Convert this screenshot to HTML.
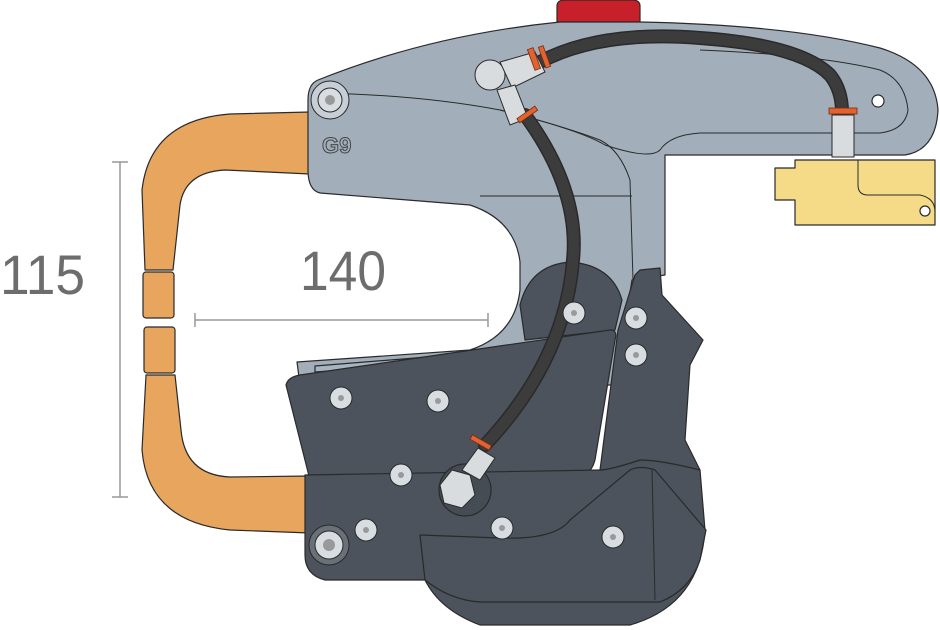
<!DOCTYPE html>
<html><head><meta charset="utf-8"><style>
html,body{margin:0;padding:0;background:#fff;width:940px;height:630px;overflow:hidden}
svg{display:block}
text{font-family:"Liberation Sans",sans-serif}
</style></head><body>
<svg width="940" height="630" viewBox="0 0 940 630" xmlns="http://www.w3.org/2000/svg">
<g stroke="#2a2a2a" stroke-width="1.2" stroke-linejoin="round">
<!-- red button -->
<path d="M557,22 L557,6 Q557,0 565,0 L632,0 Q640,0 640,6 L640,22 Z" fill="#c8202a"/>
<!-- copper arms -->
<path d="M310,112 L230,114 Q150,120 142,190 L145,270 L173,270 L180,205 Q185,172 225,170 L310,174 Z" fill="#e7a55e"/>
<rect x="143" y="272" width="31" height="46" rx="3" fill="#e7a55e"/>
<rect x="144" y="327" width="31" height="46" rx="3" fill="#e7a55e"/>
<path d="M310,533 L230,530 Q148,522 142,450 L146,375 L175,375 L181,430 Q185,475 230,477 L310,476 Z" fill="#e7a55e"/>
<!-- gray body -->
<path d="M318,80 Q430,35 560,22 L640,22 Q790,25 880,48 Q935,65 938,110 Q936,150 905,155 L665,155 L665,275 L632,280 L615,385 L300,385 L297,362 L470,350 Q515,335 520,290 L520,262 Q515,220 470,205 L320,193 Q308,190 308,170 L308,100 Q308,84 318,80 Z" fill="#a2afbb"/>
<path d="M320,93 Q420,95 500,110 Q560,125 600,140 Q620,150 630,180 L633,280" fill="none" stroke-width="1"/>
<path d="M500,110 Q580,130 605,145 Q650,160 660,150 Q670,135 700,133 L880,133 Q905,130 908,110 Q905,80 880,70 Q820,55 700,50" fill="none" stroke-width="1"/>
<path d="M480,196 L632,196" fill="none" stroke-width="1"/>
<circle cx="878" cy="101" r="6" fill="#fff"/>
<ellipse cx="571" cy="233" rx="4" ry="7" fill="#fff"/>
<path d="M315,366 L440,356 Q450,360 430,364 L315,372 Z" fill="#a8b4bf"/>
<!-- yellow block -->
<path d="M795,160 L935,160 L935,225 L795,225 L795,200 L775,200 L775,168 L795,168 Z" fill="#f5da88"/>
<path d="M858,160 L858,185 Q858,195 868,195 L920,195 Q935,198 935,212" fill="none" stroke-width="1"/>
<circle cx="925" cy="211" r="5" fill="#fff"/>
<!-- dark parts -->
<path d="M635,275 L640,270 L660,268 L662,295 L703,340 L690,365 L685,440 L700,470 L600,470 L618,330 Z" fill="#4c535c"/>
<path d="M520,305 Q530,265 570,262 Q612,265 622,300 L615,330 L525,340 Z" fill="#4c535c"/>
<path d="M286,385 Q288,377 300,375 L610,330 Q618,330 615,340 L595,460 Q590,480 565,480 L310,480 Z" fill="#4c535c"/>
<path d="M305,475 L600,470 Q610,470 640,460 Q660,460 700,470 L705,530 Q700,605 630,625 L480,625 Q440,610 425,580 L325,580 Q305,575 305,555 Z" fill="#4c535c"/>
<path d="M420,535 L425,580 Q450,600 480,602 L660,602 Q690,590 700,560 L706,530 L655,470 Q640,465 630,470 L570,520 Q555,540 500,538 Z" fill="#4c535c"/>
<path d="M652,470 L655,600" fill="none" stroke-width="1"/>
<circle cx="465" cy="490" r="26" fill="#464c54"/>
</g>
<!-- hoses -->
<g fill="none" stroke-linecap="round">
<path d="M540,62 Q600,30 700,38 Q800,45 830,75 Q842,90 842,112" stroke="#2a2a2a" stroke-width="14"/>
<path d="M540,62 Q600,30 700,38 Q800,45 830,75 Q842,90 842,112" stroke="#3c3c3c" stroke-width="11"/>
<path d="M525,115 Q580,190 573,260 Q565,360 485,445" stroke="#2a2a2a" stroke-width="14"/>
<path d="M525,115 Q580,190 573,260 Q565,360 485,445" stroke="#3c3c3c" stroke-width="11"/>
</g>
<g stroke="#2a2a2a" stroke-width="1" fill="#d8dcdf">
<circle cx="490" cy="75" r="15"/>
<path d="M500,62 L535,52 L545,72 L512,88 Z"/>
<path d="M497,90 L515,85 L528,118 L510,125 Z"/>
<rect x="832" y="115" width="22" height="42"/>
<path d="M462,470 L478,448 L495,458 L480,480 Z"/>
<path d="M440,485 L452,470 L470,475 L475,495 L462,508 L444,503 Z"/>
</g>
<g fill="#e0642f" stroke="#7a2a10" stroke-width="0.8">
<rect x="531" y="48" width="6" height="22" transform="rotate(-20 534 59)"/>
<rect x="542" y="46" width="5" height="22" transform="rotate(-20 544 57)"/>
<rect x="516" y="112" width="22" height="5" transform="rotate(-35 527 114)"/>
<rect x="829" y="108" width="28" height="6"/>
<rect x="470" y="440" width="22" height="5" transform="rotate(30 481 442)"/>
</g>
<!-- screws -->
<g fill="#d8dde2" stroke="#2a2a2a" stroke-width="1">
<circle cx="330" cy="100" r="19" fill="#c7ced6"/><circle cx="330" cy="100" r="12"/>
<circle cx="329" cy="545" r="20" fill="#6a7078"/><circle cx="329" cy="545" r="14"/>
<circle cx="341" cy="398" r="11"/><circle cx="438" cy="401" r="11"/>
<circle cx="401" cy="475" r="11"/><circle cx="366" cy="530" r="11"/>
<circle cx="502" cy="528" r="11"/><circle cx="613" cy="537" r="11"/>
<circle cx="574" cy="313" r="11"/><circle cx="636" cy="318" r="11"/>
<circle cx="636" cy="355" r="11"/>
</g>
<g fill="#999" >
<circle cx="341" cy="398" r="3"/><circle cx="438" cy="401" r="3"/><circle cx="401" cy="475" r="3"/>
<circle cx="366" cy="530" r="3"/><circle cx="502" cy="528" r="3"/><circle cx="613" cy="537" r="3"/>
<circle cx="574" cy="313" r="3"/><circle cx="636" cy="318" r="3"/><circle cx="636" cy="355" r="3"/>
<circle cx="330" cy="100" r="5"/><circle cx="329" cy="545" r="6"/>
</g>
<text x="322" y="153" font-size="22" fill="#a2afbb" stroke="#444" stroke-width="1" font-weight="bold">G9</text>
<!-- dimensions -->
<g stroke="#999" stroke-width="1.5">
<line x1="120" y1="162" x2="120" y2="497"/><line x1="112" y1="162" x2="128" y2="162"/><line x1="112" y1="497" x2="128" y2="497"/>
<line x1="195" y1="320" x2="488" y2="320"/><line x1="195" y1="313" x2="195" y2="327"/><line x1="488" y1="313" x2="488" y2="327"/>
</g>
<text x="0" y="294" font-size="56" fill="#6d6d6d" textLength="85" lengthAdjust="spacingAndGlyphs">115</text>
<text x="300" y="290" font-size="56" fill="#6d6d6d" textLength="86" lengthAdjust="spacingAndGlyphs">140</text>
</svg>
</body></html>
